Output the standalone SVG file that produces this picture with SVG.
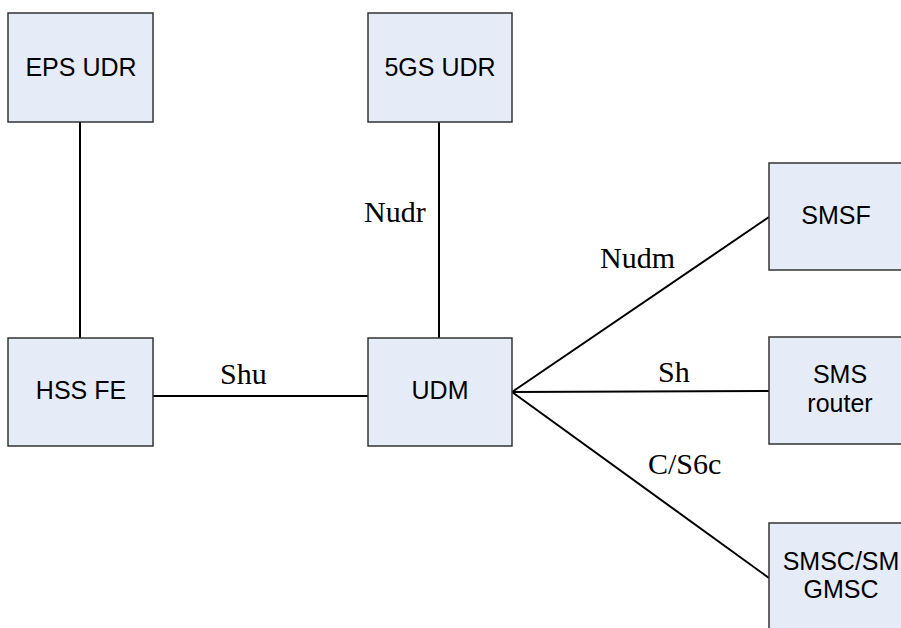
<svg xmlns="http://www.w3.org/2000/svg" width="901" height="628" viewBox="0 0 901 628">
<style>
.box{fill:#e6ecf7;stroke:#333;stroke-width:1.5}
.nt{font-family:"Liberation Sans",Arial,sans-serif;font-size:25px;fill:#000;text-anchor:middle}
.lb{font-family:"Liberation Serif","Times New Roman",serif;font-size:30px;fill:#000}
.ln{stroke:#000;stroke-width:2;fill:none}
</style>
<rect width="901" height="628" fill="#fff"/>
<g id="connectors">
<line class="ln" x1="80" y1="122" x2="80" y2="338"/>
<line class="ln" x1="439" y1="122" x2="439" y2="338"/>
<line class="ln" x1="153" y1="396" x2="368" y2="396"/>
<line class="ln" x1="512" y1="392" x2="769" y2="217"/>
<line class="ln" x1="512" y1="392" x2="769" y2="391"/>
<line class="ln" x1="512" y1="392" x2="769" y2="578"/>
<text class="lb" x="364" y="222">Nudr</text>
<text class="lb" x="600" y="268">Nudm</text>
<text class="lb" x="220" y="384">Shu</text>
<text class="lb" x="658" y="382">Sh</text>
<text class="lb" x="648" y="474">C/S6c</text>
</g>
<g id="eps-udr"><rect class="box" x="8" y="13" width="145" height="109"/><text class="nt" x="81" y="76">EPS UDR</text></g>
<g id="5gs-udr"><rect class="box" x="368" y="13" width="144" height="109"/><text class="nt" x="440" y="76">5GS UDR</text></g>
<g id="hss-fe"><rect class="box" x="8" y="338" width="145" height="108"/><text class="nt" x="81" y="399">HSS FE</text></g>
<g id="udm"><rect class="box" x="368" y="338" width="144" height="108"/><text class="nt" x="440" y="399">UDM</text></g>
<g id="smsf"><rect class="box" x="769" y="163" width="145" height="107"/><text class="nt" x="836" y="224">SMSF</text></g>
<g id="sms-router"><rect class="box" x="769" y="337" width="145" height="107"/><text class="nt" x="840" y="383">SMS</text><text class="nt" x="840" y="412">router</text></g>
<g id="smsc"><rect class="box" x="769" y="523" width="145" height="120"/><text class="nt" x="841" y="570">SMSC/SM</text><text class="nt" x="841" y="598">GMSC</text></g>
</svg>
